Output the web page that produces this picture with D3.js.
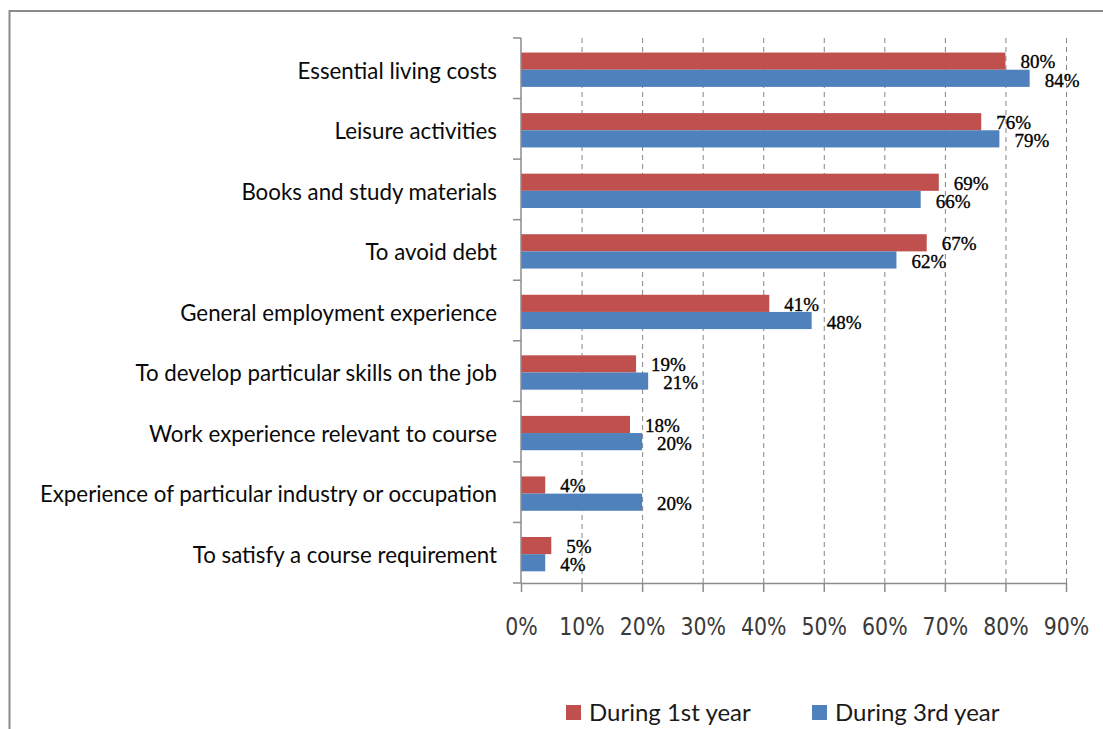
<!DOCTYPE html>
<html>
<head>
<meta charset="utf-8">
<script src="https://cdn.jsdelivr.net/npm/d3@7"></script>
<style>
  html, body { margin: 0; padding: 0; background: #fff; }
  svg { display: block; }
</style>
</head>
<body>
<svg id="chart" width="1103" height="729"></svg>
<script>
// Reasons for working during study, share of students
const categories = [
  "Essential living costs",
  "Leisure activities",
  "Books and study materials",
  "To avoid debt",
  "General employment experience",
  "To develop particular skills on the job",
  "Work experience relevant to course",
  "Experience of particular industry or occupation",
  "To satisfy a course requirement"
];
const seriesNames = ["During 1st year", "During 3rd year"];
const firstYear = [80, 76, 69, 67, 41, 19, 18, 4, 5];
const thirdYear = [84, 79, 66, 62, 48, 21, 20, 20, 4];
const xTicks = [0, 10, 20, 30, 40, 50, 60, 70, 80, 90];
const colors = ["#C0504D", "#4F81BD"];

const svg = d3.select("#chart");

// frame
svg.append("path")
  .attr("d", "M9.5,729 V11 H1103")
  .attr("fill", "none")
  .attr("stroke", "#8a8a8a")
  .attr("stroke-width", 2);

const plot = { left: 521, right: 1066, top: 38, bottom: 583 };

const x = d3.scaleLinear().domain([0, 90]).range([plot.left, plot.right]);
const y = d3.scaleBand()
  .domain(categories)
  .range([plot.top, plot.bottom])
  .paddingInner(0.433)
  .paddingOuter(0.2165)
  .align(0.555);
const ySeries = d3.scaleBand().domain([0, 1]).range([0, y.bandwidth()]);

// dashed vertical gridlines
svg.append("g")
  .selectAll("line")
  .data(xTicks.filter(t => t > 0))
  .join("line")
  .attr("x1", d => x(d) + 0.5)
  .attr("x2", d => x(d) + 0.5)
  .attr("y1", plot.top)
  .attr("y2", plot.bottom)
  .attr("stroke", "#858585")
  .attr("stroke-width", 1)
  .attr("stroke-dasharray", "5,4");

// bars
const rows = categories.map((c, i) => ({ cat: c, values: [firstYear[i], thirdYear[i]] }));
const groups = svg.append("g")
  .selectAll("g")
  .data(rows)
  .join("g")
  .attr("transform", d => `translate(0,${y(d.cat)})`);

groups.selectAll("rect")
  .data(d => d.values.map((v, s) => ({ v, s })))
  .join("rect")
  .attr("x", x(0))
  .attr("y", d => ySeries(d.s))
  .attr("width", d => x(d.v) - x(0))
  .attr("height", ySeries.bandwidth())
  .attr("fill", d => colors[d.s]);

// value labels
groups.selectAll("text")
  .data(d => d.values.map((v, s) => ({ v, s })))
  .join("text")
  .attr("x", d => x(d.v) + 15)
  .attr("y", d => ySeries(d.s) + ySeries.bandwidth() / 2 + (d.s ? 1.6 : 0.6))
  .attr("dy", "0.35em")
  .attr("font-family", "'Liberation Serif', serif")
  .attr("font-size", 19)
  .attr("fill", "#000")
  .attr("stroke", "#000")
  .attr("stroke-width", 0.35)
  .text(d => d.v + "%");

// y axis with ticks on category boundaries
const yAxisG = svg.append("g")
  .attr("transform", `translate(${plot.left},0)`);
const boundaries = d3.range(categories.length + 1)
  .map(i => plot.top + i * (plot.bottom - plot.top) / categories.length);
yAxisG.selectAll("line.b")
  .data(boundaries)
  .join("line")
  .attr("class", "b")
  .attr("x1", -8).attr("x2", 0)
  .attr("y1", d => d).attr("y2", d => d)
  .attr("stroke", "#8c8c8c").attr("stroke-width", 1.5);
yAxisG.append("line")
  .attr("x1", 0).attr("x2", 0)
  .attr("y1", plot.top).attr("y2", plot.bottom)
  .attr("stroke", "#8c8c8c").attr("stroke-width", 1.5);

// category labels
svg.append("g")
  .selectAll("text")
  .data(categories)
  .join("text")
  .attr("x", 497)
  .attr("y", d => y(d) + y.bandwidth() / 2 + 1)
  .attr("dy", "0.35em")
  .attr("text-anchor", "end")
  .attr("font-family", "Lato, sans-serif")
  .attr("font-size", 22.3)
  .attr("fill", "#0a0a0a")
  .text(d => d);

// x axis
const xAxis = d3.axisBottom(x)
  .tickValues(xTicks)
  .tickSize(9)
  .tickFormat(d => d + "%");
const xAxisG = svg.append("g")
  .attr("transform", `translate(0,${plot.bottom})`)
  .call(xAxis);
xAxisG.select(".domain")
  .attr("d", `M${plot.left},0.5H${plot.right}`)
  .attr("stroke", "#8c8c8c").attr("stroke-width", 1.5);
xAxisG.selectAll(".tick line").attr("stroke", "#8c8c8c").attr("stroke-width", 1.5);
xAxisG.selectAll(".tick text")
  .attr("y", null)
  .attr("dy", null)
  .attr("transform", "translate(0,52) scale(1,1.18)")
  .attr("font-family", "'DejaVu Sans', sans-serif")
  .attr("font-size", 20.5)
  .attr("fill", "#3a3a3a");

// legend
const legend = svg.append("g");
const legendX = [566, 812];
seriesNames.forEach((name, i) => {
  legend.append("rect")
    .attr("x", legendX[i]).attr("y", 705)
    .attr("width", 15).attr("height", 15)
    .attr("fill", colors[i]);
  legend.append("text")
    .attr("x", legendX[i] + 23).attr("y", 721)
    .attr("font-family", "Lato, sans-serif")
    .attr("font-size", 24)
    .attr("fill", "#1a1a1a")
    .text(name);
});
</script>
</body>
</html>
